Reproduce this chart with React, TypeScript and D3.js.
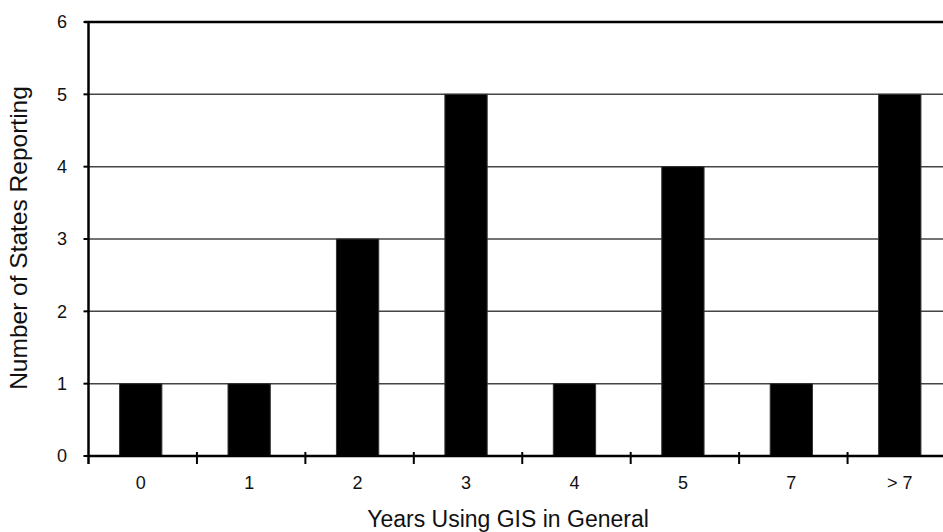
import * as d3 from 'd3';

const categories = ['0', '1', '2', '3', '4', '5', '7', '> 7'];
const counts = [1, 1, 3, 5, 1, 4, 1, 5];
const yTicks = [0, 1, 2, 3, 4, 5, 6];

const W = 943;
const H = 532;
const left = 88.5;
const top = 22;
const bottom = 456;
const right = 956;

export default function App() {
  const x = d3.scaleBand<string>().domain(categories).range([left, right]).padding(0);
  const y = d3.scaleLinear().domain([0, 6]).range([bottom, top]);
  const bw = x.bandwidth();
  const barW = bw * 0.39;
  const font = 'Liberation Sans, Arial, sans-serif';

  return (
    <svg width={W} height={H} style={{ position: 'absolute', left: 0, top: 0, background: '#fff' }}>
      {/* grid */}
      {yTicks.slice(1, -1).map(t => (
        <line key={t} x1={left} x2={W} y1={y(t)} y2={y(t)} stroke="#444" strokeWidth={1.5} />
      ))}
      {/* bars */}
      {categories.map((c, i) => (
        <rect
          key={c}
          x={(x(c) ?? 0) + (bw - barW) / 2 - 2}
          y={y(counts[i])}
          width={barW}
          height={bottom - y(counts[i])}
          fill="#000"
          stroke="#333"
          strokeWidth={1}
        />
      ))}
      {/* top border */}
      <line x1={left - 4} x2={W} y1={top} y2={top} stroke="#000" strokeWidth={2.5} />
      {/* y axis */}
      <line x1={left} x2={left} y1={top} y2={bottom + 8} stroke="#000" strokeWidth={2.5} />
      {yTicks.map(t => (
        <g key={t}>
          <line x1={left - 5} x2={left} y1={y(t)} y2={y(t)} stroke="#000" strokeWidth={2} />
          <text x={67} y={y(t)} dy="0.35em" textAnchor="end" fontFamily={font} fontSize={18} fill="#111">
            {t}
          </text>
        </g>
      ))}
      {/* x axis */}
      <line x1={left} x2={W} y1={bottom} y2={bottom} stroke="#000" strokeWidth={2.5} />
      {categories.slice(1).map(c => (
        <line key={c} x1={x(c)} x2={x(c)} y1={bottom - 4} y2={bottom + 8} stroke="#000" strokeWidth={2} />
      ))}
      {categories.map(c => (
        <text key={c} x={(x(c) ?? 0) + bw / 2 - 2} y={489} textAnchor="middle" fontFamily={font} fontSize={18} fill="#111">
          {c}
        </text>
      ))}
      <text x={508} y={527} textAnchor="middle" fontFamily={font} fontSize={23} fill="#111">
        Years Using GIS in General
      </text>
      <text
        transform={`translate(27, 238) rotate(-90)`}
        textAnchor="middle"
        fontFamily={font}
        fontSize={24.5}
        fill="#111"
      >
        Number of States Reporting
      </text>
    </svg>
  );
}
